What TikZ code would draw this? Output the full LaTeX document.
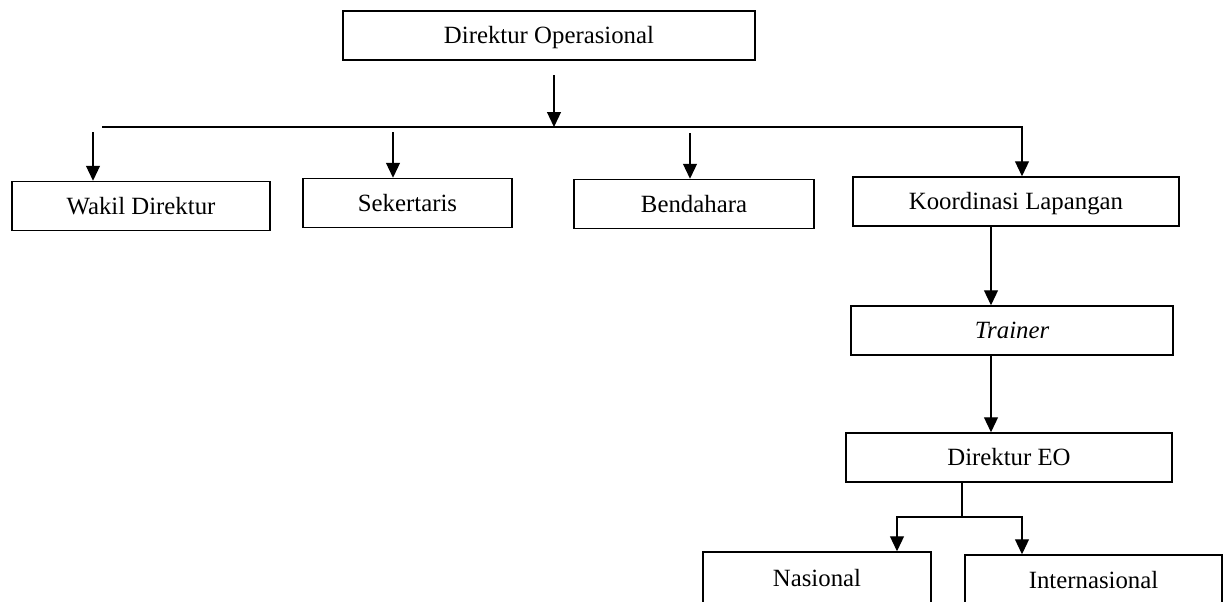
\documentclass[tikz,border=0pt]{standalone}
\usepackage{fontspec}
\setmainfont{Liberation Serif}
\usetikzlibrary{arrows.meta}
\tikzset{
	jabatan/.style={draw, rectangle, line width=0.75pt, minimum height=24.5pt, inner sep=0pt, text height=8.2pt, text depth=0pt, font=\fontsize{12.4}{15}\selectfont},
	panah/.style={line width=0.6pt, -{Triangle[width=7pt,length=7.5pt]}},
	garis/.style={line width=0.6pt}
}
\begin{document}
\begin{tikzpicture}[x=0.5pt, y=-0.5pt]
	\useasboundingbox (0,0) rectangle (1227,601);
	\clip (0,0) rectangle (1227,601);

	%boxes
	\node[jabatan, minimum width=206pt] (dirops) at (549,35.5) {Direktur Operasional};
	\node[jabatan, minimum width=129pt] (wakil) at (141,206) {Wakil Direktur};
	\node[jabatan, minimum width=104.5pt] (sekre) at (407.5,203) {Sekertaris};
	\node[jabatan, minimum width=120pt] (benda) at (694,204) {Bendahara};
	\node[jabatan, minimum width=163pt] (koord) at (1016,201.5) {Koordinasi Lapangan};
	\node[jabatan, minimum width=161pt] (trainer) at (1012,330.5) {\itshape Trainer};
	\node[jabatan, minimum width=163pt] (direo) at (1009,457.5) {Direktur EO};
	\node[jabatan, minimum width=114pt, minimum height=26.5pt] (nas) at (817,578.5) {Nasional};
	\node[jabatan, minimum width=128.5pt, minimum height=25.5pt] (inter) at (1093.5,580.5) {Internasional};

	%bus
	\coordinate (busL) at (102,127);
	\coordinate (busR) at (1022,127);
	\coordinate (o1) at (554,75);
	\draw[panah] (o1) -- (o1 |- busL);
	\draw[panah] (busL) -- (busR) -- (busR |- koord.north);

	%arrows to the first row
	\coordinate (a1) at (93,132);
	\coordinate (a2) at (393,132);
	\coordinate (a3) at (690,133);
	\draw[panah] (a1) -- (a1 |- wakil.north);
	\draw[panah] (a2) -- (a2 |- sekre.north);
	\draw[panah] (a3) -- (a3 |- benda.north);

	%column on the right
	\coordinate (k) at (991,0);
	\draw[panah] (koord.south -| k) -- (trainer.north -| k);
	\draw[panah] (trainer.south -| k) -- (direo.north -| k);

	%branch
	\coordinate (cab) at (962,517);
	\coordinate (nasK) at (897,517);
	\coordinate (intK) at (1022,517);
	\draw[garis, line width=0.9pt] (direo.south -| cab) -- (cab);
	\draw[panah] (cab) -- (nasK) -- (nasK |- nas.north);
	\draw[panah] (cab) -- (intK) -- (intK |- inter.north);
\end{tikzpicture}
\end{document}
